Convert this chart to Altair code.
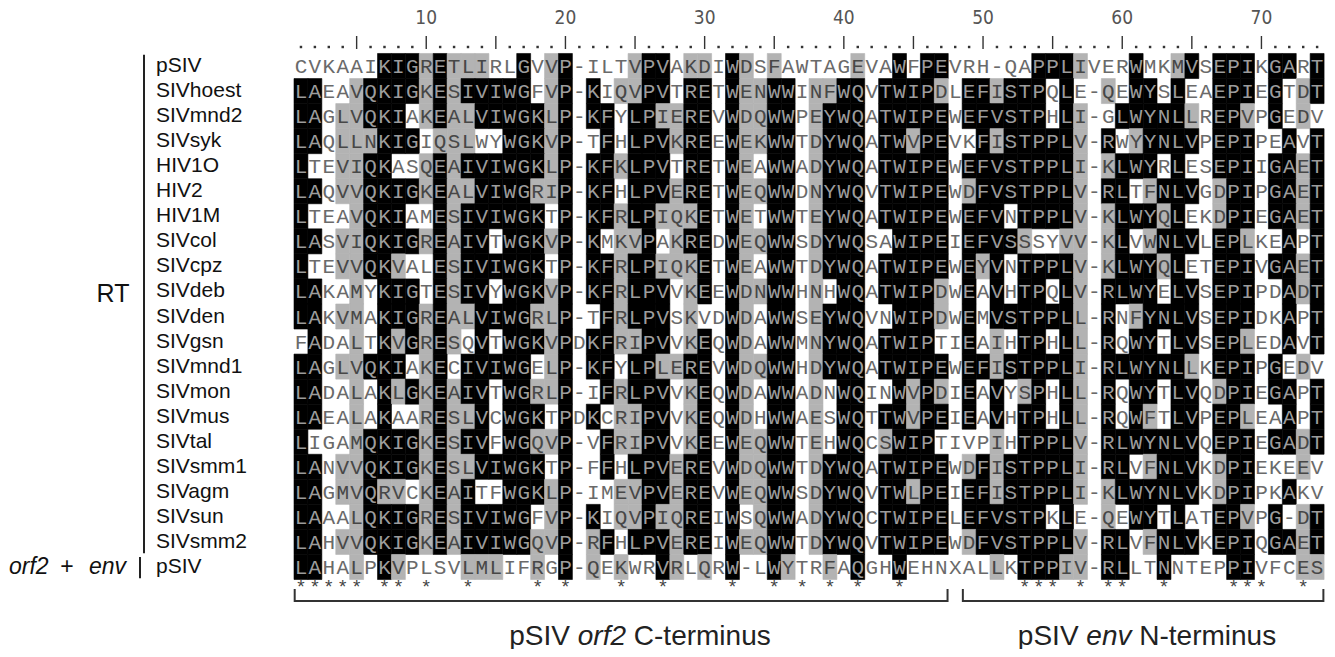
import altair as alt
import pandas as pd

# ---------------- data ----------------
names = ["pSIV", "SIVhoest", "SIVmnd2", "SIVsyk", "HIV1O", "HIV2", "HIV1M",
         "SIVcol", "SIVcpz", "SIVdeb", "SIVden", "SIVgsn", "SIVmnd1", "SIVmon",
         "SIVmus", "SIVtal", "SIVsmm1", "SIVagm", "SIVsun", "SIVsmm2", "pSIV"]

sequences = [
    "CVKAAIKIGRETLIRLGVVP-ILTVPVAKDIWDSFAWTAGEVAWFPEVRH-QAPPLIVERWMKMVSEPIKGART",
    "LAEAVQKIGKESIVIWGFVP-KIQVPVTRETWENWWINFWQVTWIPDLEFISTPQLE-QEWYSLEAEPIEGTDT",
    "LAGLVQKIAKEALVIWGKLP-KFYLPIEREVWDQWWPEYWQATWIPEWEFVSTPHLI-GLWYNLLREPVPGEDV",
    "LAQLLNKIGIQSLWYWGKVP-TFHLPVKREEWEKWWTDYWQATWVPEVKFISTPPLV-RWYYNLVPEPIPEAVT",
    "LTEVIQKASQEAIVIWGKLP-KFKLPVTRETWEAWWADYWQATWIPEWEFVSTPPLI-KLWYRLESEPIIGAET",
    "LAQVVQKIGKEALVIWGRIP-KFHLPVERETWEQWWDNYWQVTWIPEWDFVSTPPLV-RLTFNLVGDPIPGAET",
    "LTEAVQKIAMESIVIWGKTP-KFRLPIQKETWETWWTEYWQATWIPEWEFVNTPPLV-KLWYQLEKDPIEGAET",
    "LASVIQKIGREAIVTWGKVP-KMKVPAKREDWEQWWSDYWQSAWIPEIEFVSSSYVV-KLVWNLVLEPLKEAPT",
    "LTEVVQKVALESIVIWGKTP-KFRLPIQKETWEAWWTDYWQATWIPEWEYVNTPPLV-KLWYQLETEPIVGAET",
    "LAKAMYKIGTESIVYWGKVP-KFRLPVVKEEWDNWWHNHWQATWIPDWEAVHTPQLV-RLWYELVSEPIPDADT",
    "LAKVMAKIGREALVIWGRLP-TFRLPVSKVDWDAWWSEYWQVNWIPDWEMVSTPPLL-RNFYNLVSEPIDKAPT",
    "FADALTKVGRESQVTWGKVPDKFRIPVVKEQWDAWWMNYWQATWIPTIEAIHTPHLL-RQWYTLVSEPLEDAVT",
    "LAGLVQKIAKECIVIWGELP-KFYLPLEREVWDQWWHDYWQATWIPEWEFISTPPLI-RLWYNLLKEPIPGEDV",
    "LADALAKLGKEAIVTWGRLP-IFRLPVVKEQWDAWWADNWQINWVPDIEAVYSPHLL-RQWYTLVQDPIEGAPT",
    "LAEALAKAARESLVCWGKTPDKCRIPVVKEQWDHWWAESWQTTWVPEIEAVHTPHLL-RQWFTLVPEPLEAAPT",
    "LIGAMQKIGKESIVFWGQVP-VFRIPVVKEEWEQWWTEHWQCSWIPTIVPIHTPPLV-RLWYNLVQEPIEGADT",
    "LANVVQKIGKESLVIWGKTP-FFHLPVEREVWDQWWTDYWQATWIPEWDFISTPPLI-RLVFNLVKDPIEKEEV",
    "LAGMVQRVCKEAITFWGKLP-IMEVPVEREVWEQWWSDYWQVTWLPEIEFISTPPLI-KLWYNLVKDPIPKAKV",
    "LAAALQKIGRESIVIWGFVP-KIQVPIQREIWSQWWADYWQCTWIPELEFVSTPKLE-QEWYTLATEPVPG-DT",
    "LAHVVQKIGKEAIVIWGQVP-RFHLPVEREIWEQWWTDYWQVTWIPEWDFVSTPPLV-RLVFNLVKEPIQGAET",
    "LAHALPKVPLSVLMLIFRGP-QEKWRVRLQRW-LWYTRFAQGHWEHNXALLKTPPIV-RLLTNNTEPPIVFCES",
]

# shading of each alignment column, top row to bottom row
# B = black box, G = grey box, W = no box
shading = [
    "WBBBBBBBBBBWBBBBBBBBB", "WBBBWBWBWBBBBBBWBBBBB", "WWWWWWWWWWWWWWWWWWWWW",
    "WWGGGGWGGWGWGWWWGGWGW", "WGGGGGGGGGGGGGGGGGGGG", "WBBGBBBBBWWWBWWBBBBBW",
    "BBBBBBBBBBBBBBBBBGBBB", "BBBBWBBBGBBGBGWBBGBBG", "BBWBWBWBWBBBWBWBBWBBW",
    "GGGWGGWGWWGGGGGGGGGGW", "BBBGBBBBBBBBBBBBBBBBW", "GGGGGGGGGGGGWGGGGGGGW",
    "GBGGBGBBBBGWBBGBGBBBG", "GBBWBBBBBBBBBBBBBWBBG", "WBBWBBBWBWBWBWWWBWBBG",
    "WBBBBBBBBBBBBBBBBBBBW", "BBBBBBBBBBBBBBBBBBBBW", "WWBBBGBBBBGBWGBGBBWGG",
    "GGGGGGWGWGGGGGWGWGGGW", "BBBBBBBBBBBBBBBBBBBBB", "WWWWWWWWWWWWWWWWWWWWW",
    "WBBWBBBBBBWBBWBWWWBGG", "WWBBBBBWBBBBBBWBBWWBW", "WGWWGWGGGGGGWGGGWGGWG",
    "GGBBBBBGBBBGBBGGBGGBW", "BBBBBBBBBBBBBBBBBBBBW", "BBGBBBGWGBBBGBBBBBGBB",
    "WWGGWGGGGWWWGWWWGGGGG", "GBBBBBGBGGGGBGGGBBBBW", "GBBBBBBBBBWBBBBBBBBBG",
    "WWWWWWWWWWWWWWWWWWWWW", "BBBBBBBBBBBBBBBBBBBBB", "GGGGGGGGGGGGGGGGGGWGW",
    "WGGGWGWGWGWWGWWGGGGGW", "GBBBBBBBBBBBBBBBBBBBB", "WBBBBBBBBBBBBBBBBBBBG",
    "WWWWWWWWWWWWWWWWWWWWW", "WGGGGGGGGGGGGGGGGGGGW", "WGBBBBBBBWBBBWWWBBBBG",
    "WBBBBBBBBBBBBBBBBBBBW", "GBBBBBBBBBBBBBBBBBBBB", "WWWWWWWWWWWWWWWWWWWWW",
    "WBBBBBBWBBWBBWBGBBBBW", "BBBBBBBBBBBBBBBBBBBBB", "WBBGBBBBBBBBBGGBBGBBW",
    "BBBBBBBBBBBBBBBBBBBBW", "BGBBBBBBBGGWBGBWBBBBW", "WWWWWWWWWWWWWWWWWWWWW",
    "WBBWBGBBBBBBBBBWGBBGW", "WBBBBBBBGWWWBWWWBBBBW", "WGBGBBBBBBBGGBBGGGBBG",
    "WBBBBBWBWWBWBWWWBBBBW", "WBBBBBBGBBBBBGBBBBBBB", "BBBBBBBWBBBBBBBBBBBBB",
    "BWWBBBBWBWBWBWWBBBWBB", "BBBBBBBGBBBBBBBBBBBBG", "GWGGGGGGGGGGGGGGGGWGG",
    "WWWWWWWWWWWWWWWWWWWWW", "WGWBGBGGGBBBBBBBBGGBB", "WWBWBBBBBBWWBWWBBBWBB",
    "BBBGBWBWBBGBBBBBWBBWW", "WBBBBGBGBBBBBBGBGBBGW", "WWBBWBGBGWBWBWWBBBWBB",
    "GBBBBBBBBBBBBBBBBBBBW", "BWGBWBWBWBBBGBBBBBWBW", "WWWWWWWWWWWWWWWWWWWWW",
    "BBBBBGGBBBBBBGBBGGBBW", "BBBBBBBBBBBBBBBBBBBBB", "BBGBBBBGBBBGBBGBBBGBB",
    "WWWWWWWWWWWWWWWWWWWWW", "BBBWBBBWBWWWBBWBWWBBW", "BWWBBBBBBBBBWBBBWBWBW",
    "WGGWGGGWGGWWGWWGGWGGG", "BBWBBBBBBBBBWBBBWWBBG",
]

ruler_numbers = [10, 20, 30, 40, 50, 60, 70]
star_columns = [1, 2, 3, 4, 5, 7, 8, 10, 13, 18, 20, 24, 27, 32, 35, 37, 39, 41,
                44, 53, 54, 55, 57, 59, 60, 63, 68, 69, 70, 73]
region_first = [1, 49]
region_last = [47, 74]
region_pre = ["pSIV ", "pSIV "]
region_ital = ["orf2", "env"]
region_post = [" C-terminus", " N-terminus"]

# ---------------- layout ----------------
W, H = 1319, 641
COLW, ROWH = 13.92, 25.05
XC0, YC1 = 279.04, 58.0
X0 = -XC0 / COLW
Y0 = 1 - YC1 / ROWH
xs = alt.Scale(domain=[X0, X0 + W / COLW], nice=False, zero=False)
ys = alt.Scale(domain=[Y0, Y0 + H / ROWH], nice=False, zero=False, reverse=True)


def px_to_col(px):
    return X0 + px / COLW


MONO = "Liberation Mono, Courier New, monospace"
SANS = "Arial, Liberation Sans, sans-serif"
NARROW = "Liberation Sans Narrow, Arial Narrow, DejaVu Sans Condensed, sans-serif"

FILL = {"B": "#000000", "G": "#b3b3b3", "W": "#ffffff"}
INK = {"B": "#9c9c9c", "G": "#474747", "W": "#6a6a6a"}

recs = []
for i, seq in enumerate(sequences, start=1):
    for j, ch in enumerate(seq, start=1):
        s = shading[j - 1][i - 1]
        recs.append(dict(col=j, row=i, x0=j - 0.5, x1=j + 0.5, y0=i - 0.5, y1=i + 0.5,
                         letter=ch, shade=s, fill=FILL[s], ink=INK[s]))
cells = pd.DataFrame(recs)

X = lambda f: alt.X(f, scale=xs, axis=None)
Y = lambda f: alt.Y(f, scale=ys, axis=None)

boxes = alt.Chart(cells[cells.shade != "W"]).mark_rect(strokeWidth=0.6).encode(
    x=X("x0:Q"), x2="x1:Q", y=Y("y0:Q"), y2="y1:Q",
    color=alt.Color("fill:N", scale=None), stroke=alt.Stroke("fill:N", scale=None))

letters = alt.Chart(cells).mark_text(font=MONO, fontSize=21, baseline="middle", dy=1).encode(
    x=X("col:Q"), y=Y("row:Q"), text="letter:N", color=alt.Color("ink:N", scale=None))

name_df = pd.DataFrame({"name": names, "row": list(range(1, len(names) + 1))})
name_text = alt.Chart(name_df).mark_text(font=SANS, fontSize=21, align="left",
                                         baseline="middle", color="#111111").encode(
    x=alt.value(148), y=Y("row:Q"), text="name:N")

group_df = pd.DataFrame({"lab": ["RT"], "row": [10.1], "ya": [0.55], "yb": [20.45]})
rt_text = alt.Chart(group_df).mark_text(font=SANS, fontSize=25, align="center",
                                        baseline="middle", color="#111111").encode(
    x=alt.value(105), y=Y("row:Q"), text="lab:N")
rt_bar = alt.Chart(group_df).mark_rule(strokeWidth=2, color="#222222").encode(
    x=alt.value(136), y=Y("ya:Q"), y2="yb:Q")

orf_df = pd.DataFrame({"row": [21], "ya": [20.6], "yb": [21.45]})
orf_bar = alt.Chart(orf_df).mark_rule(strokeWidth=2, color="#222222").encode(
    x=alt.value(132), y=Y("ya:Q"), y2="yb:Q")
LF = 23
orf_a = alt.Chart(orf_df).mark_text(font=SANS, fontSize=LF, fontStyle="italic", align="left",
                                    baseline="middle", color="#111111").encode(
    x=alt.value(1), y=Y("row:Q"), text=alt.value("orf2"))
orf_b = alt.Chart(orf_df).mark_text(font=SANS, fontSize=LF, align="center",
                                    baseline="middle", color="#111111").encode(
    x=alt.value(59), y=Y("row:Q"), text=alt.value("+"))
orf_c = alt.Chart(orf_df).mark_text(font=SANS, fontSize=LF, fontStyle="italic", align="right",
                                    baseline="middle", color="#111111").encode(
    x=alt.value(118), y=Y("row:Q"), text=alt.value("env"))

# ruler
num_df = pd.DataFrame({"col": ruler_numbers, "lab": [str(v) for v in ruler_numbers]})
numbers = alt.Chart(num_df).mark_text(font=NARROW, fontSize=19, baseline="middle",
                                      color="#555555").encode(
    x=X("col:Q"), y=alt.value(10), text="lab:N")
ncols = len(sequences[0])
tick_df = pd.DataFrame({"col": list(range(1, ncols + 1))})
tick_df["kind"] = ["bar" if c % 5 == 0 else "dot" for c in tick_df["col"]]
dots = alt.Chart(tick_df[tick_df.kind == "dot"]).mark_square(size=6, color="#333333", opacity=1).encode(
    x=X("col:Q"), y=alt.value(39))
bars = alt.Chart(tick_df[tick_df.kind == "bar"]).mark_rule(strokeWidth=1.4, color="#333333").encode(
    x=X("col:Q"), y=alt.value(28), y2=alt.value(41))

star_df = pd.DataFrame({"col": star_columns})
stars = alt.Chart(star_df).mark_text(font=MONO, fontSize=19, baseline="middle",
                                     color="#444444").encode(
    x=X("col:Q"), y=alt.value(579), text=alt.value("*"))

reg_df = pd.DataFrame({"xa": [a - 0.45 for a in region_first],
                       "xb": [b + 0.45 for b in region_last]})
hline = alt.Chart(reg_df).mark_rule(strokeWidth=2, color="#333333").encode(
    x=X("xa:Q"), x2="xb:Q", y=alt.value(593))
ends_df = pd.DataFrame({"xe": list(reg_df.xa) + list(reg_df.xb)})
vends = alt.Chart(ends_df).mark_rule(strokeWidth=2, color="#333333").encode(
    x=X("xe:Q"), y=alt.value(581), y2=alt.value(594))

# bottom labels, pieces joined with Arial advance widths
AW = {" ": 278, "p": 556, "S": 667, "I": 278, "V": 667, "o": 556, "r": 333, "f": 278,
      "2": 556, "C": 722, "-": 333, "t": 278, "e": 556, "m": 833, "i": 222, "n": 556,
      "u": 556, "s": 500, "v": 500, "N": 722}
BF = 28


def tw(s):
    return sum(AW.get(c, 556) for c in s) * BF / 1000.0


centres = [632, 1139]
lab_rows = []
for k in range(2):
    total = tw(region_pre[k]) + tw(region_ital[k]) + tw(region_post[k])
    left = centres[k] - total / 2
    lab_rows.append(dict(txt=region_pre[k].strip(), x=px_to_col(left), it="normal"))
    lab_rows.append(dict(txt=region_ital[k], x=px_to_col(left + tw(region_pre[k])), it="italic"))
    lab_rows.append(dict(txt=region_post[k].strip(),
                         x=px_to_col(left + tw(region_pre[k]) + tw(region_ital[k]) + tw(" ")),
                         it="normal"))
lab_df = pd.DataFrame(lab_rows)
lab_norm = alt.Chart(lab_df[lab_df.it == "normal"]).mark_text(
    font=SANS, fontSize=BF, align="left", baseline="middle", color="#222222").encode(
    x=X("x:Q"), y=alt.value(629), text="txt:N")
lab_ital = alt.Chart(lab_df[lab_df.it == "italic"]).mark_text(
    font=SANS, fontSize=BF, fontStyle="italic", align="left", baseline="middle",
    color="#222222").encode(x=X("x:Q"), y=alt.value(629), text="txt:N")

chart = alt.layer(
    boxes, letters, name_text, rt_text, rt_bar, orf_bar, orf_a, orf_b, orf_c,
    numbers, dots, bars, hline, vends, stars, lab_norm, lab_ital
).properties(
    width=W, height=H, padding=0, autosize=alt.AutoSizeParams(type="none"),
    background="white"
).configure_view(stroke=None)

chart.save("out.html", embed_options={"renderer": "svg", "actions": False})
